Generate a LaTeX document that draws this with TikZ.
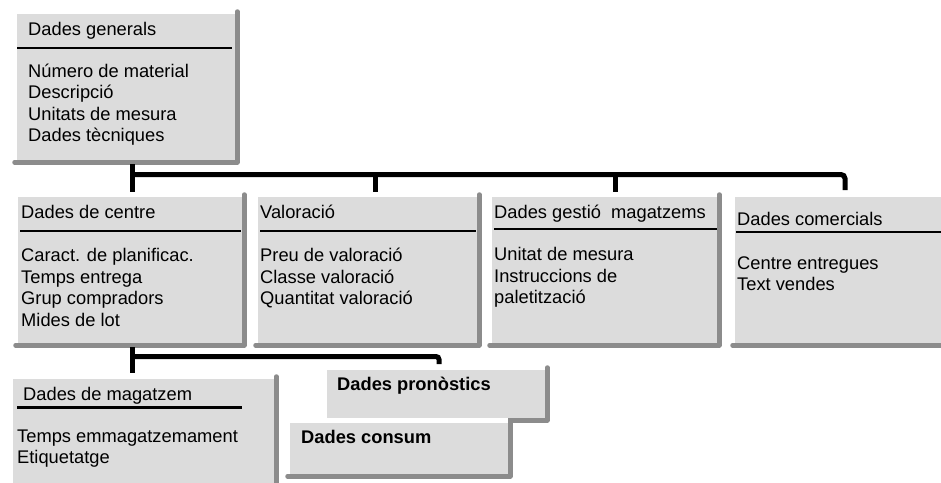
\documentclass[tikz,border=0pt]{standalone}
\usepackage{fontspec}
\setmainfont{Liberation Sans}
\definecolor{boxgray}{RGB}{220,220,220}
\definecolor{shadegray}{RGB}{140,140,140}
\tikzset{
  boxfill/.style={fill=boxgray, draw=none, inner sep=0pt, outer sep=0pt, anchor=north west},
  shadebar/.style={draw=shadegray, line width=4.5pt, line cap=round, line join=round},
  titlerule/.style={draw=black, line width=2.5pt},
  bus/.style={draw=black, line width=5pt},
  txt/.style={anchor=base west, inner sep=0pt, font=\fontsize{18.3}{21.6}\selectfont},
  btxt/.style={anchor=base west, inner sep=0pt, font=\fontsize{18.3}{21.6}\selectfont\bfseries},
}
\newcommand\boxshade[1]{\draw[shadebar] ([xshift=2.25pt,yshift=2.5pt]#1.north east) -- ([xshift=2.25pt,yshift=-2.25pt]#1.south east) -- ([xshift=-2.5pt,yshift=-2.25pt]#1.south west);}
\begin{document}
\begin{tikzpicture}[x=1pt,y=-1pt]
\useasboundingbox (0,0) rectangle (941,482);
% connector junctions
\coordinate (busL) at (132,174.5);
\coordinate (busR) at (845,174.5);
\coordinate (dropV) at (375,174.5);
\coordinate (dropG) at (615,174.5);
\coordinate (lbL) at (132,356.5);
\coordinate (lbR) at (439,356.5);
% boxes
\node[boxfill, minimum width=218pt, minimum height=146pt] (gen) at (17,14) {};
\boxshade{gen}
\node[boxfill, minimum width=224pt, minimum height=146pt] (cen) at (18,197) {};
\boxshade{cen}
\node[boxfill, minimum width=219pt, minimum height=146pt] (val) at (258,197) {};
\boxshade{val}
\node[boxfill, minimum width=225pt, minimum height=146pt] (ges) at (492,197) {};
\boxshade{ges}
\node[boxfill, minimum width=210pt, minimum height=146pt] (com) at (735,197) {};
\boxshade{com}
\node[boxfill, minimum width=261pt, minimum height=106pt] (mag) at (13,379) {};
\boxshade{mag}
\node[boxfill, minimum width=218pt, minimum height=48pt] (pro) at (327,370) {};
\boxshade{pro}
\fill[white] (285,418) rectangle (508,423);
\node[boxfill, minimum width=218pt, minimum height=51pt] (con) at (290,423) {};
\boxshade{con}
% connectors
\draw[bus] ([yshift=-4pt]gen.south -| busL) -- ([yshift=5pt]cen.north -| busL);
\draw[bus, rounded corners=4pt] (busL) -- (busR) -- ([yshift=7pt]com.north -| busR);
\draw[bus] (dropV) -- ([yshift=5pt]val.north -| dropV);
\draw[bus] (dropG) -- ([yshift=5pt]ges.north -| dropG);
\draw[bus] ([yshift=-4pt]cen.south -| lbL) -- ([yshift=6pt]mag.north -| lbL);
\draw[bus, rounded corners=3pt] (lbL) -- (lbR) -- ([yshift=6pt]pro.north -| lbR);
% title rules
\draw[titlerule] (17,48) -- (232,48);
\draw[titlerule] (20,231) -- (241,231);
\draw[titlerule] (260,231) -- (476,231);
\draw[titlerule] (494,229) -- (717,229);
\draw[titlerule] (736,232) -- (941,232);
\draw[titlerule] (17,407.5) -- (242,407.5);
% texts
\node[txt] (genT) at (28,35) {Dades generals};
\node[txt] (gen1) at (28,77) {Número de material};
\node[txt] (gen2) at (28,98.5) {Descripció};
\node[txt] (gen3) at (28,120) {Unitats de mesura};
\node[txt] (gen4) at (28,141.5) {Dades tècniques};
\node[txt] (cenT) at (21,218) {Dades de centre};
\node[txt] (cen1) at (21,261.5) {Caract. de planificac.};
\node[txt] (cen2) at (21,283) {Temps entrega};
\node[txt] (cen3) at (21,304.5) {Grup compradors};
\node[txt] (cen4) at (21,326) {Mides de lot};
\node[txt] (valT) at (260,218) {Valoració};
\node[txt] (val1) at (260,261.5) {Preu de valoració};
\node[txt] (val2) at (260,283) {Classe valoració};
\node[txt] (val3) at (260,304.5) {Quantitat valoració};
\node[txt] (gesT) at (494,218) {Dades gestió\ \ magatzems};
\node[txt] (ges1) at (494,260.5) {Unitat de mesura};
\node[txt] (ges2) at (494,282) {Instruccions de};
\node[txt] (ges3) at (494,303.5) {paletització};
\node[txt] (comT) at (737,225) {Dades comercials};
\node[txt] (com1) at (737,269) {Centre entregues};
\node[txt] (com2) at (737,290.5) {Text vendes};
\node[txt] (magT) at (23,400) {Dades de magatzem};
\node[txt] (mag1) at (17,442) {Temps emmagatzemament};
\node[txt] (mag2) at (17,463.5) {Etiquetatge};
\node[btxt] (proT) at (337,390) {Dades pronòstics};
\node[btxt] (conT) at (301,443) {Dades consum};
\end{tikzpicture}
\end{document}
